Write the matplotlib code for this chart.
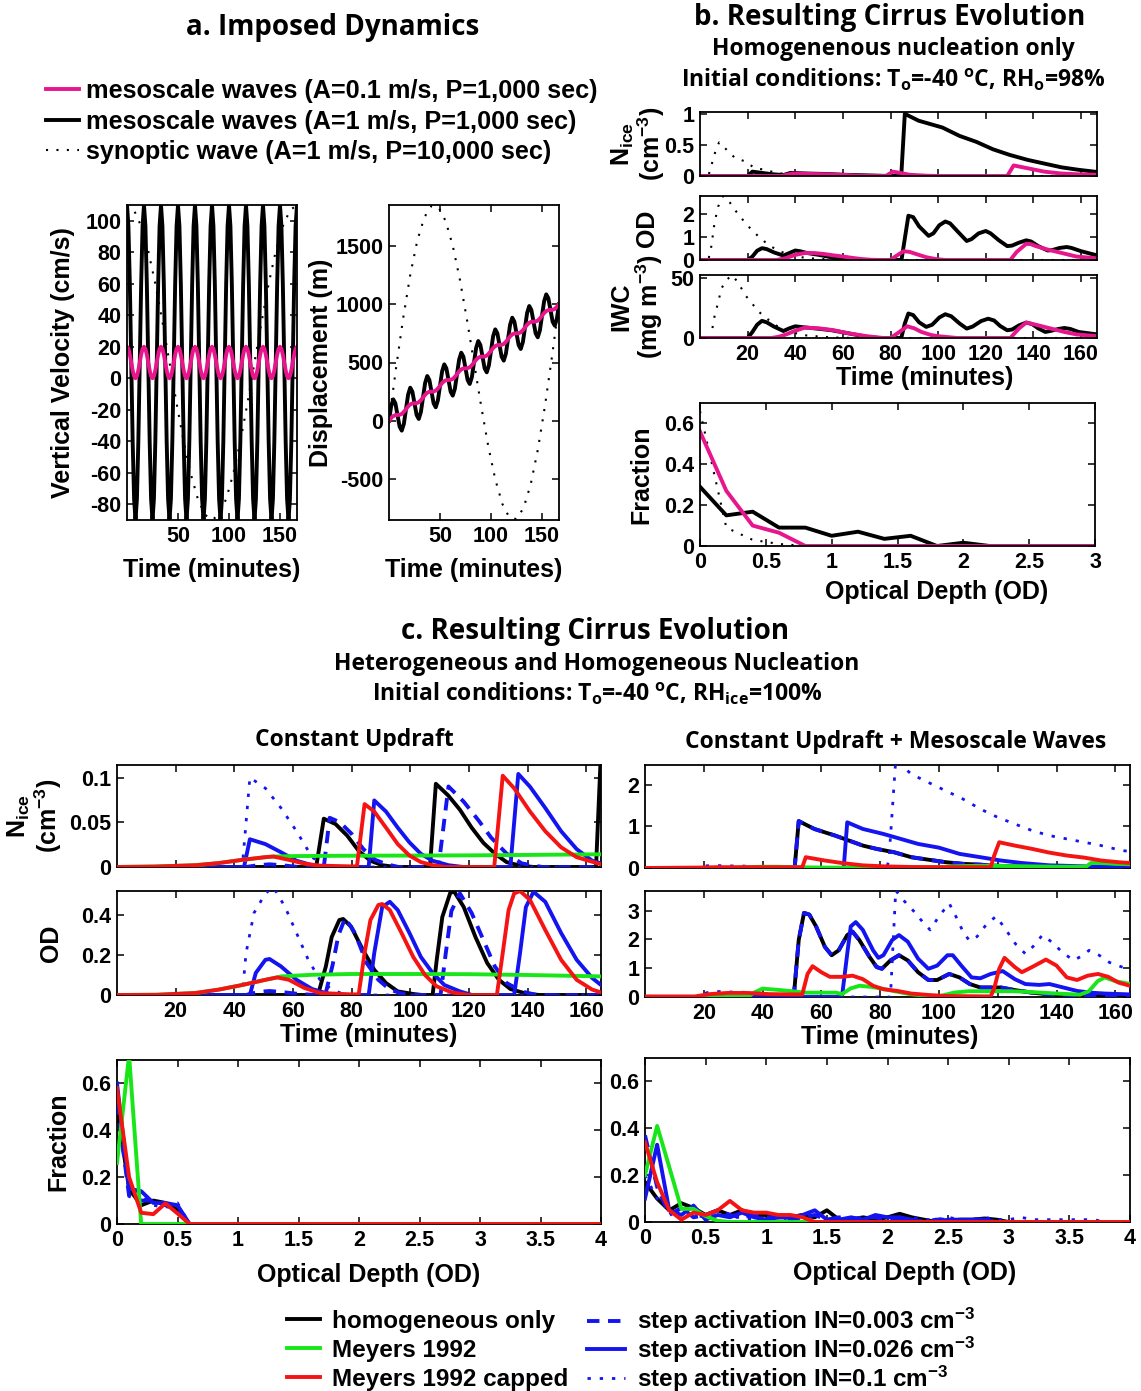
import numpy as np
import matplotlib
matplotlib.use("Agg")
import matplotlib.pyplot as plt
from matplotlib.ticker import FormatStrFormatter
from matplotlib.lines import Line2D

plt.rcParams["font.family"] = ["Liberation Sans", "DejaVu Sans"]
plt.rcParams["font.weight"] = "bold"
plt.rcParams["axes.labelweight"] = "bold"
plt.rcParams["mathtext.default"] = "regular"

# ---------------- panel a: imposed dynamics ----------------
# one 1000 s period of the mesoscale waves (cm/s), 12 samples per period
w_meso_strong_cycle = [110, 96.6, 60, 10, -40, -76.6, -90, -76.6, -40, 10, 60, 96.6]
w_meso_weak_cycle = [20, 18.7, 15, 10, 5, 1.3, 0, 1.3, 5, 10, 15, 18.7]
n_cycles = 10
# synoptic wave (cm/s), 25 samples over 10,000 s
w_synoptic = [110, 106.6, 96.6, 80.7, 60, 35.9, 10, -15.9, -40, -60.7, -76.6, -86.6, -90,
              -86.6, -76.6, -60.7, -40, -15.9, 10, 35.9, 60, 80.7, 96.6, 106.6, 110]

# displacement (m), 8 samples per mesoscale period
z_meso_strong = [0, 125, 184, 150, 50, -50, -84, -25,
                 100, 225, 284, 250, 150, 50, 16, 75,
                 200, 325, 384, 350, 250, 150, 116, 175,
                 300, 425, 484, 450, 350, 250, 216, 275,
                 400, 525, 584, 550, 450, 350, 316, 375,
                 500, 625, 684, 650, 550, 450, 416, 475,
                 600, 725, 784, 750, 650, 550, 516, 575,
                 700, 825, 884, 850, 750, 650, 616, 675,
                 800, 925, 984, 950, 850, 750, 716, 775,
                 900, 1025, 1084, 1050, 950, 850, 816, 875,
                 1000]
z_meso_weak = [0, 24, 41, 49, 50, 52, 59, 77,
               100, 124, 141, 149, 150, 152, 159, 177,
               200, 224, 241, 249, 250, 252, 259, 277,
               300, 324, 341, 349, 350, 352, 359, 377,
               400, 424, 441, 449, 450, 452, 459, 477,
               500, 524, 541, 549, 550, 552, 559, 577,
               600, 624, 641, 649, 650, 652, 659, 677,
               700, 724, 741, 749, 750, 752, 759, 777,
               800, 824, 841, 849, 850, 852, 859, 877,
               900, 924, 941, 949, 950, 952, 959, 977,
               1000]
z_synoptic = [0, 454, 879, 1251, 1546, 1746, 1842, 1830, 1712, 1501, 1213, 870, 500, 130,
              -213, -501, -712, -830, -842, -746, -546, -251, 121, 546, 1000]
t_end = 166.7

# ---------------- panel b: homogeneous nucleation only ----------------
b_nice_black_t = [0, 20, 22, 26, 30, 35, 38, 45, 55, 60, 70, 80, 84.5, 86, 91.8, 101.8, 109, 116,
                  123, 130, 137.5, 144.6, 151.7, 158.9, 166.7]
b_nice_black = [0, 0, 0.07, 0.05, 0.03, 0.015, 0.05, 0.04, 0.03, 0.02, 0.01, 0, 0, 1.0, 0.89, 0.78,
                0.645, 0.55, 0.43, 0.34, 0.26, 0.2, 0.14, 0.10, 0.065]
b_nice_pink_t = [0, 34, 39, 50, 60, 66, 78, 81, 84, 88, 95, 100, 129, 131.7, 137.5, 144.6, 151.7, 160, 166.7]
b_nice_pink = [0, 0, 0.04, 0.03, 0.02, 0.005, 0, 0.07, 0.05, 0.02, 0.005, 0, 0, 0.17, 0.125, 0.07, 0.04,
               0.025, 0.02]
b_nice_syn_t = [0, 3.5, 5, 6.5, 8, 11.8, 14.7, 19, 23, 27.5, 31, 36, 42, 50, 60, 166.7]
b_nice_syn = [0, 0, 0.2, 0.4, 0.54, 0.4, 0.29, 0.235, 0.126, 0.1, 0.06, 0.03, 0.015, 0.005, 0, 0]

b_od_black_t = [0, 20, 22, 24, 26, 28, 31, 35, 37.5, 40, 42, 45, 50, 55, 60, 63, 84.6, 87.5, 89.5, 92,
                96, 98, 100.5, 103, 105, 108, 112, 114, 117, 120, 122, 125.5, 129, 131, 134, 137, 139,
                142, 146, 148, 151, 154, 156, 160, 166.7]
b_od_black = [0, 0, 0.15, 0.4, 0.51, 0.47, 0.33, 0.19, 0.3, 0.41, 0.38, 0.3, 0.22, 0.12, 0.03, 0, 0, 1.91,
              1.85, 1.45, 1.04, 1.15, 1.5, 1.66, 1.58, 1.25, 0.82, 0.9, 1.15, 1.25, 1.15, 0.85, 0.6, 0.62,
              0.75, 0.85, 0.8, 0.6, 0.41, 0.43, 0.52, 0.56, 0.52, 0.38, 0.2]
b_od_pink_t = [0, 32, 36, 40, 44, 48, 52, 56, 60, 64, 68, 72, 76, 80, 82, 85.5, 88, 91, 95, 99, 103,
               130.3, 133, 137, 139, 141, 146, 152, 158, 166.7]
b_od_pink = [0, 0, 0.08, 0.22, 0.3, 0.3, 0.26, 0.2, 0.15, 0.09, 0.04, 0.01, 0, 0, 0.15, 0.38, 0.35, 0.25,
             0.12, 0.04, 0, 0, 0.35, 0.7, 0.68, 0.6, 0.45, 0.3, 0.15, 0.07]
b_od_syn_t = [0, 3.5, 4.7, 6.1, 7.6, 9.7, 12.6, 16.1, 20.4, 24.7, 29, 33, 38, 45, 55, 65, 166.7]
b_od_syn = [0, 0, 0.56, 1.6, 2.3, 2.76, 2.47, 1.96, 1.44, 1.0, 0.63, 0.4, 0.2, 0.08, 0.02, 0, 0]

b_iwc_black_t = [0, 20, 22, 24, 26, 28, 31, 35, 37.5, 40, 43, 48, 55, 62, 70, 75, 84.5, 86, 87.5, 89.5,
                 92, 95, 97.5, 100.5, 103, 105.5, 109, 112, 114.5, 118, 121, 123.5, 126, 129, 131, 134,
                 137, 139.5, 142, 145, 147.5, 150.5, 153, 155.5, 159, 166.7]
b_iwc_black = [0, 0, 5, 11, 14.2, 13, 9.5, 5.8, 8, 9.7, 9, 8, 6.5, 4, 1, 0, 0, 12, 20.3, 19, 13, 9.2, 11,
               17, 19.7, 18, 12, 7.8, 9.5, 14, 16, 14.5, 10, 6.4, 7, 10.5, 12.8, 11.5, 8, 5, 6, 7.5, 8.3,
               7.5, 5, 3]
b_iwc_pink_t = [0, 30, 33, 36, 40, 44, 50, 56, 62, 70, 77, 80, 83, 87, 90, 93, 97, 100, 108, 130.3, 134,
                137, 141, 147, 153, 158, 166.7]
b_iwc_pink = [0, 0, 1, 2.8, 6, 8.6, 8, 6.5, 4, 1.5, 0, 0, 4, 9.7, 8, 5, 2.5, 1.5, 0, 0, 8, 12.8, 11, 8, 5,
              3, 1.5]
b_iwc_syn_t = [0, 4.5, 6, 7.5, 9, 11, 13.5, 16, 19, 24.7, 29, 33, 38, 45, 55, 65, 166.7]
b_iwc_syn = [0, 0, 17, 28.6, 41, 48, 52, 46, 35.5, 21.7, 14.7, 9, 5, 2, 0.5, 0, 0]

b_od_bins = [0, 0.2, 0.4, 0.6, 0.8, 1.0, 1.2, 1.4, 1.6, 1.8, 2.0, 2.2, 2.4, 2.6, 2.8, 3.0]
b_frac_pink = [0.56, 0.27, 0.1, 0.065, 0]
b_frac_black = [0.29, 0.15, 0.168, 0.09, 0.09, 0.05, 0.07, 0.035, 0.05, 0, 0.016, 0]
b_frac_syn = [0.66, 0.09, 0.03, 0.01, 0]

# ---------------- panel c: heterogeneous + homogeneous ----------------
# constant updraft, N_ice (cm^-3)
cl_nice = {
    "black": ([0, 67.9, 70.5, 74.5, 78.5, 82.4, 86.4, 90.4, 95, 106.7, 108.7, 112.9, 116.9, 120.9, 124.9,
               128.8, 132.8, 136.8, 142, 163.3, 165],
              [0, 0, 0.054, 0.048, 0.035, 0.018, 0.007, 0.002, 0, 0, 0.093, 0.08, 0.064, 0.044, 0.027,
               0.015, 0.0055, 0.002, 0, 0, 0.13]),
    "green": ([0, 13, 26.8, 34.7, 42.7, 50.6, 53.3, 60, 80, 100, 120, 140, 165],
              [0, 0.0005, 0.002, 0.0044, 0.008, 0.011, 0.0117, 0.0122, 0.0126, 0.0128, 0.013, 0.0135,
               0.0142]),
    "red": ([0, 13, 26.8, 34.7, 42.7, 50.6, 53.3, 58.6, 63.9, 69.2, 79.8, 81.8, 84.4, 87.7, 91.7, 95.7,
             99.7, 103.6, 107.6, 112, 128.6, 131.5, 135.4, 140.8, 146, 151.4, 156.7, 165],
            [0, 0.0005, 0.002, 0.0044, 0.008, 0.011, 0.0117, 0.008, 0.0037, 0.0015, 0.0007, 0.0007,
             0.0703, 0.062, 0.044, 0.0256, 0.0128, 0.0055, 0.002, 0, 0, 0.102, 0.088, 0.062, 0.04, 0.022,
             0.011, 0.003]),
    "in003": ([0, 44, 48, 52, 56, 62, 70.5, 72.5, 76, 80, 84, 88, 92, 96, 109.6, 113, 118.2, 123.5, 127.5,
               132.8, 138, 145, 165],
              [0, 0, 0.002, 0.003, 0.002, 0, 0, 0.055, 0.05, 0.037, 0.02, 0.008, 0.003, 0, 0, 0.09, 0.073,
               0.051, 0.033, 0.015, 0.004, 0, 0]),
    "in026": ([0, 43.3, 45.3, 50.6, 55.9, 61.2, 66.5, 72, 85.8, 87.7, 91.7, 95.7, 99.7, 103.6, 107.6, 113,
               118, 134.1, 136.8, 140.8, 146, 151.4, 156.7, 162, 165],
              [0, 0, 0.031, 0.0256, 0.0165, 0.007, 0.002, 0, 0, 0.0744, 0.062, 0.044, 0.0275, 0.0147,
               0.007, 0.002, 0, 0, 0.104, 0.0897, 0.066, 0.04, 0.02, 0.007, 0.004]),
    "in1": ([0, 42.7, 45.3, 50.6, 55.9, 61.2, 66.5, 70, 75, 165],
            [0, 0, 0.1, 0.088, 0.066, 0.04, 0.011, 0.003, 0, 0]),
}
# constant updraft, OD
cl_od = {
    "black": ([0, 68.5, 71.2, 73.2, 75.8, 77.1, 79.8, 83.8, 87.7, 91.7, 95.7, 101, 104, 107.6, 109, 110.9,
               113.6, 114.9, 118.2, 122.2, 126.2, 130.2, 134.1, 139.4, 144, 165],
              [0, 0, 0.143, 0.29, 0.375, 0.38, 0.342, 0.226, 0.126, 0.06, 0.018, 0.005, 0, 0, 0.176, 0.39,
               0.51, 0.518, 0.44, 0.29, 0.16, 0.076, 0.03, 0.007, 0, 0]),
    "green": ([0, 13.5, 26.8, 34.7, 42.7, 50.6, 54.6, 55.9, 66.5, 80, 100, 120, 140, 165],
              [0, 0.001, 0.01, 0.027, 0.05, 0.076, 0.088, 0.093, 0.101, 0.105, 0.105, 0.104, 0.1, 0.093]),
    "red": ([0, 13.5, 26.8, 34.7, 42.7, 50.6, 54.6, 58.6, 63.9, 69.2, 80, 82.4, 84.4, 86.4, 89.1, 90.4, 93,
             97, 101, 105, 109, 114.2, 120, 129.5, 131.5, 133.5, 135.4, 137.4, 140.8, 146, 151.4, 156.7,
             162, 165],
            [0, 0.001, 0.01, 0.027, 0.05, 0.076, 0.088, 0.076, 0.035, 0.01, 0.003, 0.003, 0.21, 0.375,
             0.45, 0.455, 0.425, 0.31, 0.19, 0.1, 0.043, 0.013, 0, 0, 0.21, 0.425, 0.508, 0.52, 0.475,
             0.325, 0.176, 0.076, 0.027, 0.013]),
    "in003": ([0, 44, 48, 52, 56, 62, 68, 71, 73.5, 75.5, 77.8, 81.1, 85.1, 89.1, 93, 97, 101, 110.3, 112,
               114, 116.9, 120.9, 124.9, 128.8, 132.8, 138, 143, 165],
              [0, 0, 0.015, 0.02, 0.015, 0.005, 0, 0, 0.15, 0.3, 0.385, 0.31, 0.16, 0.076, 0.027, 0.008, 0,
               0, 0.2, 0.42, 0.508, 0.41, 0.275, 0.143, 0.06, 0.018, 0, 0]),
    "in026": ([0, 45.3, 47.3, 50.6, 52, 55.9, 61.2, 66.5, 71.8, 75, 85.8, 87.7, 90.4, 93, 95.7, 99.7, 103.6,
               107.6, 111.6, 116.9, 121, 135.4, 137.4, 139.4, 142, 146, 151.4, 156.7, 162, 165],
              [0, 0, 0.11, 0.176, 0.18, 0.143, 0.076, 0.03, 0.007, 0, 0, 0.21, 0.44, 0.466, 0.425, 0.31,
               0.19, 0.11, 0.05, 0.018, 0, 0, 0.21, 0.44, 0.516, 0.466, 0.31, 0.176, 0.085, 0.05]),
    "in1": ([0, 42.7, 44, 46.7, 50.6, 53.3, 57.3, 61.2, 65.2, 69.2, 73.2, 78, 165],
            [0, 0, 0.21, 0.41, 0.508, 0.54, 0.44, 0.31, 0.176, 0.076, 0.027, 0, 0]),
}
# constant updraft + mesoscale waves, N_ice (cm^-3)
cr_nice_homog_t = [0, 50.9, 52.3, 57.6, 64.7, 69.4, 74.1, 78.8, 84.7, 90.6, 96.4, 102.3, 108.2, 114.1,
                   117.6, 125, 140, 165]
cr_nice_homog = [0, 0, 1.13, 0.94, 0.78, 0.66, 0.54, 0.46, 0.38, 0.26, 0.2, 0.14, 0.1, 0.08, 0.06, 0.04,
                 0.025, 0.015]
cr_nice = {
    "black": (cr_nice_homog_t, cr_nice_homog),
    "green": ([0, 30, 35, 40, 45, 50, 55, 60, 80, 100, 105, 110, 120, 130, 140, 150, 151.7, 155, 160, 165],
              [0, 0, 0.02, 0.03, 0.03, 0.02, 0.015, 0.01, 0.01, 0.02, 0.04, 0.05, 0.05, 0.04, 0.03, 0.03,
               0.12, 0.12, 0.1, 0.09]),
    "red": ([0, 18, 25, 35, 45, 53.5, 54.7, 61.2, 67, 74, 81, 90.6, 100, 117.6, 118.8, 120.5, 125.8, 131.7,
             137.6, 143.5, 149.4, 155.2, 161, 165],
            [0, 0.01, 0.02, 0.02, 0.02, 0.02, 0.26, 0.18, 0.12, 0.064, 0.04, 0.024, 0.02, 0.02, 0.3, 0.62,
             0.54, 0.46, 0.37, 0.3, 0.25, 0.18, 0.14, 0.12]),
    "in003": (cr_nice_homog_t, cr_nice_homog),  # identical to homogeneous only
    "in026": ([0, 67.6, 68.8, 74.1, 81.1, 87, 92.9, 100, 107, 114.1, 121.1, 128.2, 137.6, 149.4, 165],
              [0, 0, 1.1, 0.94, 0.82, 0.7, 0.58, 0.49, 0.34, 0.26, 0.18, 0.12, 0.064, 0.04, 0.024]),
    "in1": ([0, 18, 20, 24, 28, 32, 36, 40, 45, 82.3, 83, 85.3, 90.6, 96.4, 102.3, 108.2, 114.1, 120,
             125.8, 131.7, 137.6, 143.5, 149.4, 155.2, 162.3, 165],
            [0, 0, 0.05, 0.06, 0.05, 0.05, 0.04, 0.03, 0, 0, 0.22, 2.6, 2.26, 2.06, 1.86, 1.66, 1.42, 1.22,
             1.06, 0.9, 0.78, 0.7, 0.62, 0.54, 0.42, 0.4]),
}
# constant updraft + mesoscale waves, OD
cr_od_homog_t = [0, 50.6, 52.3, 54.1, 55.9, 58.2, 61.2, 63.5, 65.9, 68.8, 70.6, 72.9, 76.4, 78.8, 80.6,
                 83.5, 86.4, 89.4, 92.9, 96.4, 99.4, 103.5, 107, 110.5, 114.1, 117.6, 121.1, 125.8, 131.7,
                 137.6, 149.4, 165]
cr_od_homog = [0, 0, 1.98, 2.92, 2.86, 2.45, 1.74, 1.45, 1.62, 2.15, 2.27, 1.98, 1.39, 1.04, 0.98, 1.27,
               1.45, 1.27, 0.86, 0.59, 0.59, 0.8, 0.68, 0.45, 0.33, 0.33, 0.33, 0.24, 0.15, 0.09, 0.06,
               0.035]
cr_od = {
    "black": (cr_od_homog_t, cr_od_homog),
    "green": ([0, 35, 37, 40, 45, 50, 55, 60, 65, 67, 70, 73, 77, 80, 85, 90, 95, 100, 105, 110, 125, 130,
               140, 148, 151, 154, 156.4, 160, 165],
              [0, 0, 0.15, 0.29, 0.25, 0.2, 0.15, 0.15, 0.15, 0.1, 0.3, 0.39, 0.35, 0.3, 0.2, 0.1, 0.05,
               0.02, 0.15, 0.2, 0.2, 0.18, 0.12, 0.08, 0.2, 0.55, 0.68, 0.55, 0.45]),
    "red": ([0, 17, 22, 28, 35, 42, 50, 53.5, 55.3, 57, 60, 62.9, 67, 70.6, 74.1, 77.6, 81.1, 85.9, 90.6,
             96.4, 102.3, 117.6, 118.8, 120.5, 122.3, 125.8, 128.2, 131.7, 136.4, 140, 143.5, 147, 150.6,
             154.1, 157.6, 161.1, 165],
            [0.02, 0.02, 0.1, 0.14, 0.14, 0.1, 0.09, 0.09, 0.8, 1.07, 0.86, 0.7, 0.7, 0.74, 0.62, 0.39,
             0.27, 0.21, 0.12, 0.07, 0.035, 0.02, 0.3, 0.98, 1.36, 1.04, 0.86, 1.04, 1.3, 1.09, 0.68, 0.59,
             0.74, 0.8, 0.7, 0.5, 0.39]),
    "in003": (cr_od_homog_t, cr_od_homog),  # identical to homogeneous only
    "in026": ([0, 67, 68.8, 70, 71.7, 74.1, 77.6, 79.4, 81.1, 84.1, 86.4, 89.4, 92.9, 96.4, 99.4, 102.9,
               104.7, 107.6, 111.1, 114.1, 117.6, 121.7, 125.8, 129.4, 134.1, 137.6, 142.3, 147, 151.7,
               156.4, 165],
              [0, 0, 1.5, 2.45, 2.6, 2.33, 1.62, 1.36, 1.45, 1.98, 2.15, 1.92, 1.33, 0.98, 1.09, 1.45, 1.45,
               1.09, 0.68, 0.65, 0.8, 0.9, 0.62, 0.45, 0.42, 0.45, 0.33, 0.21, 0.15, 0.12, 0.09]),
    "in1": ([0, 18, 21, 25, 30, 35, 40, 45, 83.5, 85.3, 88.2, 91.7, 94.5, 97, 100, 103.5, 106, 108.5, 110.5,
             113, 116, 119.4, 122, 126, 129.4, 132, 135.2, 138.5, 142, 145.8, 148.5, 151.1, 154.5, 158,
             162.3, 165],
            [0, 0, 0.15, 0.19, 0.17, 0.16, 0.15, 0, 0, 3.7, 3.33, 2.95, 2.6, 2.33, 2.8, 3.25, 2.75, 2.2,
             1.95, 2.1, 2.5, 2.8, 2.45, 1.85, 1.5, 1.75, 2.15, 1.9, 1.55, 1.27, 1.42, 1.62, 1.45, 1.2, 1.04,
             0.95]),
}

# OD distributions, bins of 0.1 from 0 to 4 (trailing bins are zero)
c_od_bins = [round(0.1 * i, 1) for i in range(41)]
cl_frac = {
    "black": [0.5, 0.15, 0.08, 0.1, 0.09, 0.06, 0],
    "green": [0.26, 0.72, 0],
    "red": [0.58, 0.2, 0.048, 0.042, 0.088, 0.045, 0],
    "in003": [0.52, 0.12, 0.1, 0.1, 0.08, 0.06, 0],
    "in026": [0.6, 0.15, 0.14, 0.09, 0.09, 0.08, 0],
    "in1": [0.55, 0.18, 0.12, 0.08, 0.07, 0.09, 0],
}
cr_frac = {
    "black": [0.17, 0.1, 0.05, 0.08, 0.06, 0.03, 0.05, 0.03, 0.05, 0.03, 0.03, 0.02, 0.02, 0.03, 0.02,
              0.05, 0.01, 0.01, 0.02, 0.01, 0.02, 0.035, 0.02, 0.01, 0, 0.005, 0.01, 0.01, 0.015, 0.01, 0],
    "green": [0.2, 0.41, 0.235, 0.056, 0.056, 0.025, 0.005, 0],
    "red": [0.34, 0.17, 0.05, 0.01, 0.04, 0.03, 0.05, 0.09, 0.05, 0.04, 0.04, 0.03, 0.03, 0.02, 0],
    "in003": [0.37, 0.15, 0.03, 0.06, 0.02, 0.03, 0.05, 0.03, 0.02, 0.03, 0.02, 0.02, 0.01, 0.02, 0.03,
              0.01, 0.02, 0.01, 0.02, 0.02, 0.01, 0.01, 0.01, 0, 0.01, 0.01, 0, 0.01, 0.01, 0],
    "in026": [0.1, 0.33, 0.05, 0.03, 0.07, 0.01, 0.03, 0.02, 0.04, 0.02, 0.01, 0.02, 0.02, 0.03, 0.05,
              0.01, 0.01, 0.02, 0.01, 0.03, 0.02, 0.02, 0.01, 0, 0, 0.01, 0.01, 0.01, 0.01, 0],
    "in1": [0.2, 0.1, 0.06, 0.04, 0.03, 0.02, 0.03, 0.02, 0.02, 0.01, 0.02, 0.01, 0.02, 0.02, 0.04, 0.02,
            0.01, 0.02, 0.01, 0.03, 0.02, 0.01, 0.02, 0.01, 0.01, 0.02, 0.01, 0.01, 0.02, 0.01, 0.01, 0.02,
            0.01, 0.01, 0.01, 0.01, 0.01, 0.01, 0],
}

PINK = "#e8168c"
GREEN = "#19e619"
RED = "#f51414"
BLUE = "#1414f0"
LW = 2.8
SYN_DOT = (0, (1, 4))

# style of each run in panel c: (color, linestyle, linewidth, zorder)
runs = {
    "black": ("black", "-", LW, 2),
    "in1": (BLUE, (0, (1.2, 3.2)), 2.0, 3),
    "in026": (BLUE, "-", LW, 4),
    "in003": (BLUE, (0, (3.2, 2.2)), LW, 5),
    "green": (GREEN, "-", LW, 6),
    "red": (RED, "-", LW, 7),
}

W, H = 1141, 1391
fig = plt.figure(figsize=(W / 100, H / 100), dpi=100)


def box(x0, y0, x1, y1):
    ax = fig.add_axes([x0 / W, 1 - y1 / H, (x1 - x0) / W, (y1 - y0) / H])
    ax.tick_params(direction="in", top=True, right=True, length=5, width=1.1, labelsize=15.5, pad=4)
    for s in ax.spines.values():
        s.set_linewidth(1.3)
    ax.xaxis.set_major_formatter(FormatStrFormatter("%g"))
    ax.yaxis.set_major_formatter(FormatStrFormatter("%g"))
    return ax


def title(x, y, s, size):
    fig.text(x / W, 1 - y / H, s, ha="center", va="center", fontsize=size, family="Open Sans",
             weight="bold")


LAB = 18

# ---- panel a ----
t_fast = np.linspace(0, t_end, len(w_meso_strong_cycle) * n_cycles + 1)
w_strong = np.append(np.tile(w_meso_strong_cycle, n_cycles), w_meso_strong_cycle[0])
w_weak = np.append(np.tile(w_meso_weak_cycle, n_cycles), w_meso_weak_cycle[0])
t_syn = np.linspace(0, t_end, len(w_synoptic))
t_disp = np.linspace(0, t_end, len(z_meso_strong))

ax = box(127, 205, 297, 520)
ax.plot(t_syn, w_synoptic, color="black", ls=SYN_DOT, lw=1.5)
ax.plot(t_fast, w_strong, color="black", lw=LW)
ax.plot(t_fast, w_weak, color=PINK, lw=LW)
ax.set_xlim(0, t_end)
ax.set_ylim(-90, 110)
ax.set_xticks([50, 100, 150])
ax.set_yticks(range(-80, 101, 20))
ax.set_xlabel("Time (minutes)", fontsize=LAB, labelpad=8)
ax.set_ylabel("Vertical Velocity (cm/s)", fontsize=LAB)
ax.yaxis.set_label_coords(-0.306, 0.5)

ax = box(389, 205, 559, 520)
ax.plot(t_syn, z_synoptic, color="black", ls=SYN_DOT, lw=1.5)
ax.plot(t_disp, z_meso_strong, color="black", lw=LW)
ax.plot(t_disp, z_meso_weak, color=PINK, lw=LW)
ax.set_xlim(0, t_end)
ax.set_ylim(-850, 1850)
ax.set_xticks([50, 100, 150])
ax.set_yticks([-500, 0, 500, 1000, 1500])
ax.set_xlabel("Time (minutes)", fontsize=LAB, labelpad=8)
ax.set_ylabel("Displacement (m)", fontsize=LAB)
ax.yaxis.set_label_coords(-0.33, 0.5)

title(333, 28, "a. Imposed Dynamics", 20)
h_a = [Line2D([], [], color=PINK, lw=LW), Line2D([], [], color="black", lw=LW),
       Line2D([], [], color="black", ls=SYN_DOT, lw=1.5)]
fig.legend(h_a, ["mesoscale waves (A=0.1 m/s, P=1,000 sec)",
                 "mesoscale waves (A=1 m/s, P=1,000 sec)",
                 "synoptic wave (A=1 m/s, P=10,000 sec)"],
           loc="upper left", bbox_to_anchor=(46 / W, 1 - 79 / H), frameon=False,
           prop=dict(size=18.2, weight="bold"), handlelength=1.3, handletextpad=0.3,
           labelspacing=0.26, borderaxespad=0, borderpad=0)

# ---- panel b ----
title(890, 17, "b. Resulting Cirrus Evolution", 20)
title(893, 49, "Homogenenous nucleation only", 16.5)
title(893, 80, "Initial conditions: T$_o$=-40 $^o$C, RH$_o$=98%", 16.5)

b_rows = [
    ((700, 112, 1097, 176), b_nice_syn_t, b_nice_syn, b_nice_black_t, b_nice_black, b_nice_pink_t,
     b_nice_pink, 1.03, [0, 0.5, 1], "N$_{ice}$\n(cm$^{-3}$)", -0.083),
    ((700, 196, 1097, 260), b_od_syn_t, b_od_syn, b_od_black_t, b_od_black, b_od_pink_t, b_od_pink,
     2.76, [0, 1, 2], "OD", -0.103),
    ((700, 275, 1097, 338), b_iwc_syn_t, b_iwc_syn, b_iwc_black_t, b_iwc_black, b_iwc_pink_t,
     b_iwc_pink, 52.2, [0, 50], "IWC\n(mg m$^{-3}$)", -0.088),
]
for i, (bx, st, sv, kt, kv, pt, pv, top, yt, lab, lx) in enumerate(b_rows):
    ax = box(*bx)
    ax.plot(st, sv, color="black", ls=SYN_DOT, lw=1.5)
    ax.plot(kt, kv, color="black", lw=LW)
    ax.plot(pt, pv, color=PINK, lw=LW)
    ax.set_xlim(0, t_end)
    ax.set_ylim(0, top)
    ax.set_xticks(range(20, 161, 20))
    ax.set_yticks(yt)
    ax.set_ylabel(lab, fontsize=LAB, linespacing=1.0)
    ax.yaxis.set_label_coords(lx, 0.5)
    if i < 2:
        ax.set_xticklabels([])
    else:
        ax.set_xlabel("Time (minutes)", fontsize=LAB)
        ax.xaxis.set_label_coords(0.567, -0.444)

ax = box(700, 403, 1095, 546)
nb = len(b_od_bins)
ax.plot(b_od_bins, np.pad(b_frac_syn, (0, nb - len(b_frac_syn))), color="black", ls=SYN_DOT, lw=1.5)
ax.plot(b_od_bins, np.pad(b_frac_black, (0, nb - len(b_frac_black))), color="black", lw=LW)
ax.plot(b_od_bins, np.pad(b_frac_pink, (0, nb - len(b_frac_pink))), color=PINK, lw=LW)
ax.set_xlim(0, 3)
ax.set_ylim(0, 0.7)
ax.set_xticks(np.arange(0, 3.01, 0.5))
ax.set_yticks([0, 0.2, 0.4, 0.6])
ax.set_xlabel("Optical Depth (OD)", fontsize=LAB)
ax.xaxis.set_label_coords(0.6, -0.24)
ax.set_ylabel("Fraction", fontsize=LAB)
ax.yaxis.set_label_coords(-0.119, 0.5)

# ---- panel c ----
title(595, 632, "c. Resulting Cirrus Evolution", 20)
title(597, 664, "Heterogeneous and Homogeneous Nucleation", 16.5)
title(597, 694, "Initial conditions: T$_o$=-40 $^o$C, RH$_{ice}$=100%", 16.5)
title(354, 740, "Constant Updraft", 16.5)
title(896, 742, "Constant Updraft + Mesoscale Waves", 16.5)


def series_axes(bx, data, top, yt, ylab=None, lx=None, xlab=None):
    ax = box(*bx)
    for key, (c, ls, lw, z) in runs.items():
        t, v = data[key]
        ax.plot(t, v, color=c, ls=ls, lw=lw, zorder=z)
    ax.set_xlim(0, 165)
    ax.set_ylim(0, top)
    ax.set_xticks(range(20, 161, 20))
    ax.set_yticks(yt)
    if ylab:
        ax.set_ylabel(ylab, fontsize=LAB, linespacing=1.0)
        ax.yaxis.set_label_coords(lx, 0.5)
    if xlab:
        ax.set_xlabel("Time (minutes)", fontsize=LAB)
        ax.xaxis.set_label_coords(*xlab)
    else:
        ax.set_xticklabels([])
    return ax


series_axes((117, 765, 601, 867), cl_nice, 0.114, [0, 0.05, 0.1], "N$_{ice}$\n(cm$^{-3}$)", -0.11)
series_axes((117, 891, 601, 995), cl_od, 0.52, [0, 0.2, 0.4], "OD", -0.112, xlab=(0.519, -0.27))
series_axes((645, 765, 1130, 868), cr_nice, 2.48, [0, 1, 2])
series_axes((645, 891, 1130, 997), cr_od, 3.68, [0, 1, 2, 3], xlab=(0.505, -0.264))

nc = len(c_od_bins)
for bx, data, ylab, lab_x in [((117, 1060, 601, 1224), cl_frac, "Fraction", 0.519),
                              ((645, 1058, 1130, 1222), cr_frac, None, 0.536)]:
    ax = box(*bx)
    for key, (c, ls, lw, z) in runs.items():
        v = np.pad(data[key], (0, nc - len(data[key])))
        ax.plot(c_od_bins, v, color=c, ls=ls, lw=lw, zorder=z)
    ax.set_xlim(0, 4)
    ax.set_ylim(0, 0.7)
    ax.set_xticks(np.arange(0, 4.01, 0.5))
    ax.set_yticks([0, 0.2, 0.4, 0.6])
    ax.set_xlabel("Optical Depth (OD)", fontsize=LAB)
    ax.xaxis.set_label_coords(lab_x, -0.24)
    if ylab:
        ax.set_ylabel(ylab, fontsize=LAB)
        ax.yaxis.set_label_coords(-0.097, 0.5)

names = {"black": "homogeneous only", "green": "Meyers 1992", "red": "Meyers 1992 capped",
         "in003": "step activation IN=0.003 cm$^{-3}$", "in026": "step activation IN=0.026 cm$^{-3}$",
         "in1": "step activation IN=0.1 cm$^{-3}$"}
for keys, x0, y0, hl, sp in [(["black", "green", "red"], 287, 1310, 1.35, 0.24),
                             (["in003", "in026", "in1"], 587, 1306, 1.55, -0.06)]:
    hs = [Line2D([], [], color=runs[k][0], ls=runs[k][1], lw=runs[k][2]) for k in keys]
    fig.legend(hs, [names[k] for k in keys], loc="upper left",
               bbox_to_anchor=(x0 / W, 1 - y0 / H), frameon=False,
               prop=dict(size=17.5, weight="bold"), handlelength=hl, handletextpad=0.5,
               labelspacing=sp, borderaxespad=0, borderpad=0)

fig.savefig("out.png", dpi=100)
